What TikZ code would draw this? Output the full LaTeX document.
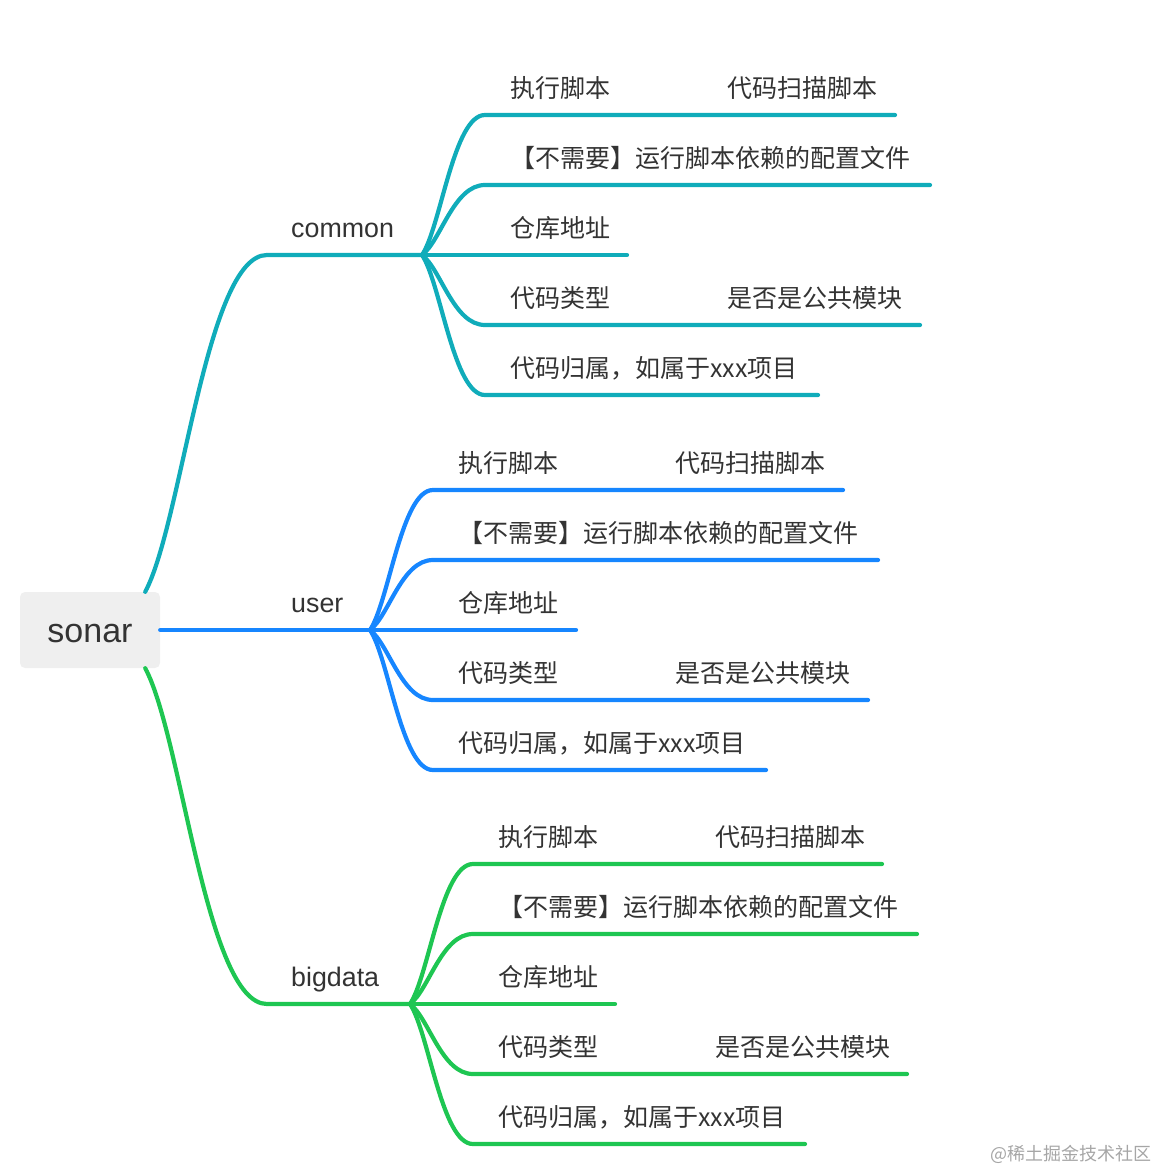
\documentclass[tikz,border=0pt]{standalone}
\usepackage{fontspec}
\setmainfont{Liberation Sans}
\newfontfamily\cjk{Noto Sans CJK SC}
\usepackage{tikz}
\usetikzlibrary{calc}

\definecolor{tealline}{RGB}{16,172,186}
\definecolor{blueline}{RGB}{22,134,255}
\definecolor{greenline}{RGB}{30,198,82}
\definecolor{txtgray}{RGB}{51,51,51}
\definecolor{rootfill}{RGB}{239,239,239}

\tikzset{
  rootbox/.style={fill=rootfill, rounded corners=5pt, minimum width=140pt,
    minimum height=76pt, inner sep=0pt, text=txtgray, text height=24pt,
    text depth=0pt, font=\fontsize{34}{36}\selectfont},
  branchlabel/.style={anchor=base west, inner sep=0pt, text=txtgray,
    font=\fontsize{26.8}{28}\selectfont},
  topic/.style={anchor=base west, inner sep=0pt, text=txtgray,
    font=\cjk\fontsize{25}{27}\selectfont},
  link/.style={line width=4.2pt, line cap=round},
  fanlink/.style={to path={let \p1=(\tikztostart), \p2=(\tikztotarget) in
    .. controls ({\x1+0.3*(\x2-\x1)},{\y1+0.2*(\y2-\y1)})
    and ({\x1+0.5*(\x2-\x1)},\y2) .. (\tikztotarget) \tikztonodes}}
}

\begin{document}
\begin{tikzpicture}[x=1pt,y=-1pt]
\useasboundingbox (0,0) rectangle (1158,1170);

% root
\node[rootbox] (root) at (90,630) {sonar};
\coordinate (root-up) at ($(root.north east)+(-15,0)$);
\coordinate (root-down) at ($(root.south east)+(-15,0)$);

% common
\coordinate (com-elbow) at (267,255);
\coordinate (com-fan) at (422,255);
\node[branchlabel] (com) at (291,237) {common};
\draw[link, tealline, fanlink] (root-up) to (com-elbow) -- (com-fan);

\coordinate (com-exec-s) at (485,115);
\coordinate (com-exec-e) at (895,115);
\coordinate (com-cfg-s) at (485,185);
\coordinate (com-cfg-e) at (930,185);
\coordinate (com-repo-e) at (627,255);
\coordinate (com-type-s) at (485,325);
\coordinate (com-type-e) at (920,325);
\coordinate (com-own-s) at (485,395);
\coordinate (com-own-e) at (818,395);

\node[topic] (com-exec) at (510,97) {执行脚本};
\node[topic] (com-exec-sub) at (727,97) {代码扫描脚本};
\node[topic] (com-cfg) at (510,167) {【不需要】运行脚本依赖的配置文件};
\node[topic] (com-repo) at (510,237) {仓库地址};
\node[topic] (com-type) at (510,307) {代码类型};
\node[topic] (com-type-sub) at (727,307) {是否是公共模块};
\node[topic] (com-own) at (510,377) {代码归属，如属于xxx项目};

\draw[link, tealline, fanlink] (com-fan) to (com-exec-s) -- (com-exec-e);
\draw[link, tealline, fanlink] (com-fan) to (com-cfg-s) -- (com-cfg-e);
\draw[link, tealline] (com-fan) -- (com-repo-e);
\draw[link, tealline, fanlink] (com-fan) to (com-type-s) -- (com-type-e);
\draw[link, tealline, fanlink] (com-fan) to (com-own-s) -- (com-own-e);

% user
\coordinate (usr-fan) at (370,630);
\node[branchlabel] (usr) at (291,612) {user};
\draw[link, blueline] (root.east) -- (usr-fan);

\coordinate (usr-exec-s) at (433,490);
\coordinate (usr-exec-e) at (843,490);
\coordinate (usr-cfg-s) at (433,560);
\coordinate (usr-cfg-e) at (878,560);
\coordinate (usr-repo-e) at (576,630);
\coordinate (usr-type-s) at (433,700);
\coordinate (usr-type-e) at (868,700);
\coordinate (usr-own-s) at (433,770);
\coordinate (usr-own-e) at (766,770);

\node[topic] (usr-exec) at (458,472) {执行脚本};
\node[topic] (usr-exec-sub) at (675,472) {代码扫描脚本};
\node[topic] (usr-cfg) at (458,542) {【不需要】运行脚本依赖的配置文件};
\node[topic] (usr-repo) at (458,612) {仓库地址};
\node[topic] (usr-type) at (458,682) {代码类型};
\node[topic] (usr-type-sub) at (675,682) {是否是公共模块};
\node[topic] (usr-own) at (458,752) {代码归属，如属于xxx项目};

\draw[link, blueline, fanlink] (usr-fan) to (usr-exec-s) -- (usr-exec-e);
\draw[link, blueline, fanlink] (usr-fan) to (usr-cfg-s) -- (usr-cfg-e);
\draw[link, blueline] (usr-fan) -- (usr-repo-e);
\draw[link, blueline, fanlink] (usr-fan) to (usr-type-s) -- (usr-type-e);
\draw[link, blueline, fanlink] (usr-fan) to (usr-own-s) -- (usr-own-e);

% bigdata
\coordinate (big-elbow) at (267,1004);
\coordinate (big-fan) at (410,1004);
\node[branchlabel] (big) at (291,986) {bigdata};
\draw[link, greenline, fanlink] (root-down) to (big-elbow) -- (big-fan);

\coordinate (big-exec-s) at (473,864);
\coordinate (big-exec-e) at (882,864);
\coordinate (big-cfg-s) at (473,934);
\coordinate (big-cfg-e) at (917,934);
\coordinate (big-repo-e) at (615,1004);
\coordinate (big-type-s) at (473,1074);
\coordinate (big-type-e) at (907,1074);
\coordinate (big-own-s) at (473,1144);
\coordinate (big-own-e) at (805,1144);

\node[topic] (big-exec) at (498,846) {执行脚本};
\node[topic] (big-exec-sub) at (715,846) {代码扫描脚本};
\node[topic] (big-cfg) at (498,916) {【不需要】运行脚本依赖的配置文件};
\node[topic] (big-repo) at (498,986) {仓库地址};
\node[topic] (big-type) at (498,1056) {代码类型};
\node[topic] (big-type-sub) at (715,1056) {是否是公共模块};
\node[topic] (big-own) at (498,1126) {代码归属，如属于xxx项目};

\draw[link, greenline, fanlink] (big-fan) to (big-exec-s) -- (big-exec-e);
\draw[link, greenline, fanlink] (big-fan) to (big-cfg-s) -- (big-cfg-e);
\draw[link, greenline] (big-fan) -- (big-repo-e);
\draw[link, greenline, fanlink] (big-fan) to (big-type-s) -- (big-type-e);
\draw[link, greenline, fanlink] (big-fan) to (big-own-s) -- (big-own-e);

% watermark
\node[anchor=base east, inner sep=0pt, text=black!35,
    font=\cjk\fontsize{18}{20}\selectfont] (mark) at (1152,1160) {@稀土掘金技术社区};

\end{tikzpicture}
\end{document}
